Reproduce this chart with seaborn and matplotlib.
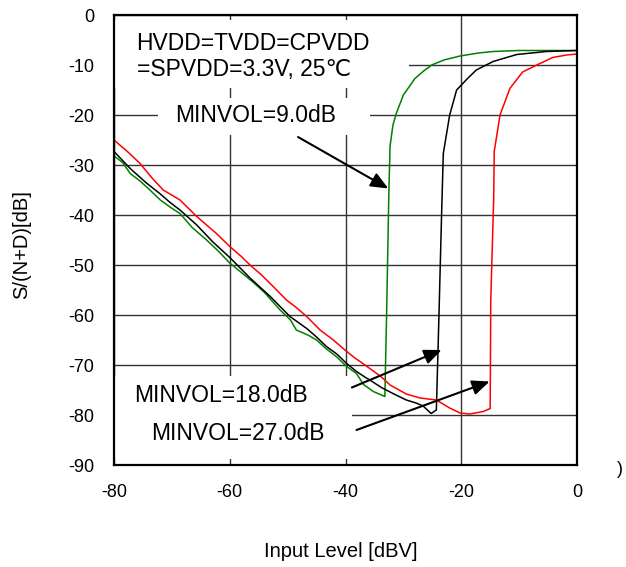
import numpy as np
import pandas as pd
import matplotlib
matplotlib.use("Agg")
import matplotlib.pyplot as plt
import matplotlib.patches as patches
import seaborn as sns

# --- data ---
green_x = [-80, -78.5, -77.2, -75.5, -73.8, -72, -70.2, -68.6, -66.5, -64, -62, -60, -58, -55.9, -54,
           -51.3, -49.5, -48.5, -46.5, -45, -43.5, -41.6, -39.8, -38.1, -36.9, -35.2, -33.6, -33.2,
           -32.9, -32.5, -32.3, -31.8, -31.2, -30, -28.0, -26.5, -25.1, -23, -20.2, -17, -14.5, -10, -5, 0]
green_y = [-28.2, -29.5, -31.7, -33.2, -35, -37, -38.5, -39.7, -42.5, -45, -47.2, -49.6, -51.5, -53.5, -55.5,
           -59, -61, -63, -64, -65, -66.6, -68.3, -70.3, -71.7, -73.9, -75.3, -76.1, -76.3,
           -60, -35, -26.2, -22, -19.6, -16, -12.7, -11.2, -10, -9, -8.2, -7.6, -7.3, -7.1, -7.1, -7.1]

black_x = [-80, -77.2, -74.5, -72.1, -70.3, -68.6, -65.7, -63, -60, -58.2, -56.5, -53, -49.6, -46.7, -45,
           -43.3, -41.5, -39.8, -38.1, -36.4, -35.8, -33.8, -31.8, -29.5, -27.8, -26.6, -25.2, -24.3,
           -23.85, -23.4, -23.1, -22.0, -20.8, -19, -17.4, -14.5, -10.4, -5.3, 0]
black_y = [-27.3, -30.7, -33.5, -35.7, -37.5, -39, -42, -45.3, -48.5, -50.6, -52.6, -56.3, -60.3, -62.7, -64.4,
           -66.3, -67.8, -69.7, -71.3, -72.6, -73, -74.5, -75.7, -77, -77.6, -78.2, -79.7, -79,
           -60, -40, -27.7, -20, -15, -12.8, -11, -9.3, -7.9, -7.3, -7.1]

red_x = [-80, -77.5, -75.5, -73.5, -71.5, -68.6, -65.7, -62.3, -60, -58, -56.5, -54.5, -52.5, -50.2, -48.5,
         -46.7, -44.4, -42.1, -40.1, -38.5, -37, -34.6, -33.5, -32.3, -29.5, -27.1, -24.3, -22, -20.2,
         -18.5, -16.2, -15.0, -14.9, -14.4, -14.3, -13.3, -11.6, -9.4, -6.4, -4.2, -1.8, 0]
red_y = [-25, -27.5, -29.7, -32.5, -35, -37, -40.3, -43.7, -46.3, -48.3, -50, -52, -54.3, -57, -58.5,
         -60.3, -63, -65, -67, -68.5, -69.7, -71.7, -72.7, -74, -75.8, -76.6, -77, -78.6, -79.6,
         -79.8, -79.3, -78.7, -57, -37, -27.3, -20, -14.7, -11.4, -9.7, -8.5, -8, -7.8]

series_names = ["MINVOL=9.0dB", "MINVOL=18.0dB", "MINVOL=27.0dB"]
series_colors = ["#008000", "#000000", "#ff0000"]

x_ticks = [-80, -60, -40, -20, 0]
y_ticks = [0, -10, -20, -30, -40, -50, -60, -70, -80, -90]

condition_text = "HVDD=TVDD=CPVDD\n=SPVDD=3.3V, 25\u2103"

# arrows: (text, text anchor, arrow tail, arrow tip) in data units
labels = [
    ("MINVOL=9.0dB", (-69.5, -20), (-48.2, -24.4), (-32.6, -34.7)),
    ("MINVOL=18.0dB", (-76.5, -76), (-38.9, -74.5), (-23.4, -67.0)),
    ("MINVOL=27.0dB", (-73.6, -83.6), (-38.1, -83.0), (-15.1, -73.3)),
]

df = pd.concat([
    pd.DataFrame({"x": green_x, "y": green_y, "series": series_names[0]}),
    pd.DataFrame({"x": black_x, "y": black_y, "series": series_names[1]}),
    pd.DataFrame({"x": red_x, "y": red_y, "series": series_names[2]}),
], ignore_index=True)

sns.set_style("white")
plt.rcParams["font.family"] = ["Liberation Sans", "DejaVu Sans"]
plt.rcParams["axes.unicode_minus"] = False
plt.rcParams["text.color"] = "black"
plt.rcParams["axes.labelcolor"] = "black"
plt.rcParams["xtick.color"] = "black"
plt.rcParams["ytick.color"] = "black"

fig = plt.figure(figsize=(6.26, 5.67), dpi=100)
ax = fig.add_axes([114 / 626, 1 - 465 / 567, 463 / 626, 450 / 567])

ax.set_axisbelow(True)
ax.grid(True, color="#333333", linewidth=1.0)

# white panels behind the texts hide the grid, as in the original
for x0, y0, x1, y1 in [(114, 20, 409, 88), (158, 98, 370, 135), (114, 376, 352, 459)]:
    ax.add_patch(patches.Rectangle(((x0 - 114) / 463, 1 - (y1 - 15) / 450),
                                   (x1 - x0) / 463, (y1 - y0) / 450,
                                   transform=ax.transAxes, facecolor="white",
                                   edgecolor="none", zorder=1))

sns.lineplot(data=df, x="x", y="y", hue="series", hue_order=series_names,
             palette=series_colors, sort=False, estimator=None, units="series",
             legend=False, linewidth=1.1, ax=ax, zorder=3)

ax.set_xlim(-80, 0)
ax.set_ylim(-90, 0)
ax.set_xticks(x_ticks)
ax.set_yticks(y_ticks)
ax.tick_params(direction="in", length=4, width=1, labelsize=13, pad=14,
               color="#333333", labelcolor="black")

for s in ax.spines.values():
    s.set_color("black")
    s.set_linewidth(1.6)
    s.set_zorder(4)

ax.set_xlabel("Input Level [dBV]", fontsize=14.5, color="black")
ax.set_ylabel("S/(N+D)[dB]", fontsize=14.5, color="black")
ax.xaxis.label.set_va("center")
ax.yaxis.label.set_va("center")
ax.xaxis.set_label_coords(0.49, -0.193)
ax.yaxis.set_label_coords(-0.199, 0.489)

ax.text(-76.1, -3.3, condition_text, fontsize=16.5, ha="left", va="top",
        linespacing=1.22, zorder=5)

for txt, pos, tail, tip in labels:
    ax.text(pos[0], pos[1], txt, fontsize=16.5, ha="left", va="center", zorder=5)
    ax.annotate("", xy=tip, xytext=tail,
                arrowprops=dict(arrowstyle="-|>,head_length=0.7,head_width=0.3",
                                color="black", lw=1.5, mutation_scale=15,
                                shrinkA=0, shrinkB=0), zorder=5)

fig.text(620 / 626, 1 - 470 / 567, ")", fontsize=13, ha="center", va="center")

fig.savefig("out.png", dpi=100, facecolor="white")
